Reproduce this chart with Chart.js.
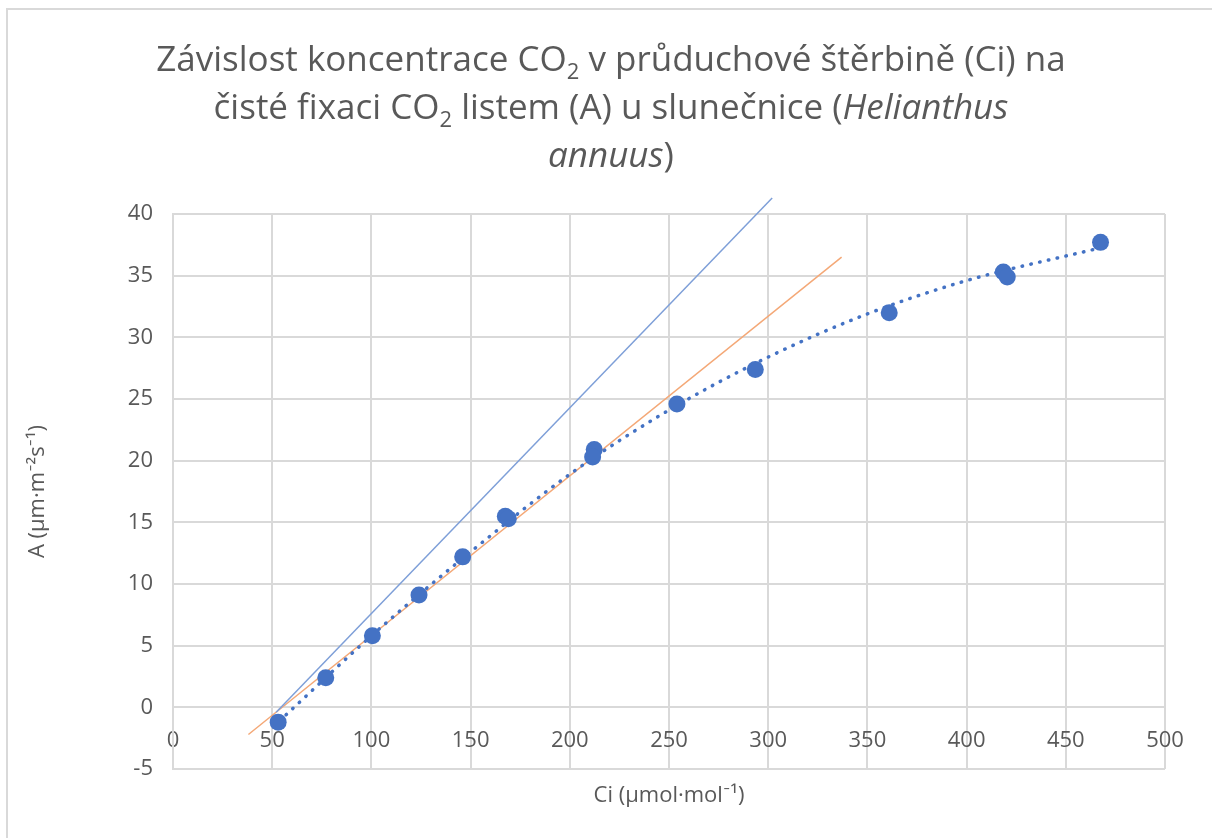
<!DOCTYPE html>
<html>
<head>
<meta charset="utf-8">
<script src="https://cdn.jsdelivr.net/npm/chart.js@4"></script>
<style>
    body { margin: 0; background: #fff; }
    #wrap { position: relative; width: 1212px; height: 838px; overflow: hidden; }
    #frame { position: absolute; left: 6px; top: 8px; right: -20px; bottom: -20px;
             border-left: 2px solid #d9d9d9; border-top: 2px solid #d9d9d9; }
    #title { position: absolute; left: 0; top: 34px; width: 1222px; text-align: center;
             font-family: 'Open Sans', Lato, sans-serif; font-size: 35px; line-height: 48px; color: #595959; }
    #title sub { font-size: 22px; line-height: 0; vertical-align: -8px; }
    canvas { position: absolute; left: 0; top: 0; }
</style>
</head>
<body>
<div id="wrap">
    <div id="frame"></div>
    <canvas id="chart" width="1212" height="838"></canvas>
    <div id="title">Závislost koncentrace CO<sub>2</sub> v průduchové štěrbině (Ci) na<br>čisté fixaci CO<sub>2</sub> listem (A) u slunečnice (<i>Helianthus</i><br><i>annuus</i>)</div>
</div>
<script>
// ── Data ─────────────────────────────────────────────────
const ciValues = [53, 77, 100.5, 124, 146, 167.5, 169, 212.3, 211.5, 254, 293.5, 361, 418.5, 420.5, 467.5];
const aValues  = [-1.2, 2.4, 5.8, 9.1, 12.2, 15.5, 15.3, 20.9, 20.3, 24.6, 27.4, 32.0, 35.3, 34.9, 37.7];

// dotted polynomial trend
const trendCi = [57, 100, 150, 200, 250, 300, 350, 400, 466];
const trendA  = [-0.6, 5.8, 12.6, 18.9, 24.1, 28.4, 31.9, 34.6, 37.2];

// two straight lines (initial slopes)
const blueLineCi = [52, 302];
const blueLineA  = [-0.4, 41.3];
const orangeLineCi = [38, 337];
const orangeLineA  = [-2.2, 36.5];

const xTicks = [0, 50, 100, 150, 200, 250, 300, 350, 400, 450, 500];
const yTicks = [-5, 0, 5, 10, 15, 20, 25, 30, 35, 40];

const toPoints = (xs, ys) => xs.map((x, i) => ({ x, y: ys[i] }));

const FONT = '"Open Sans", Lato, sans-serif';
const TEXT = '#595959';
const GRID = '#d9d9d9';
const BLUE = '#4472c4';

// ── Chart ────────────────────────────────────────────────
new Chart(document.getElementById('chart').getContext('2d'), {
    type: 'scatter',
    data: {
        datasets: [
            {
                data: toPoints(ciValues, aValues),
                backgroundColor: BLUE,
                borderColor: BLUE,
                pointRadius: 8.5,
                pointBorderWidth: 0,
                order: 1,
            },
            {
                type: 'line',
                data: toPoints(trendCi, trendA),
                borderColor: BLUE,
                borderWidth: 3.5,
                borderDash: [0.5, 8.5],
                borderCapStyle: 'round',
                cubicInterpolationMode: 'monotone',
                pointRadius: 0,
                fill: false,
                order: 2,
            },
            {
                type: 'line',
                data: toPoints(blueLineCi, blueLineA),
                borderColor: '#7e9fd8',
                borderWidth: 1.5,
                pointRadius: 0,
                fill: false,
                clip: false,
                order: 3,
            },
            {
                type: 'line',
                data: toPoints(orangeLineCi, orangeLineA),
                borderColor: '#f4a877',
                borderWidth: 1.5,
                pointRadius: 0,
                fill: false,
                clip: false,
                order: 4,
            },
        ],
    },
    options: {
        responsive: false,
        animation: false,
        devicePixelRatio: 1,
        layout: { padding: { left: 0, right: 47, top: 214, bottom: 0 } },
        plugins: {
            legend: { display: false },
            tooltip: { enabled: false },
        },
        scales: {
            x: {
                type: 'linear',
                min: 0, max: 500,
                position: { y: 0 },
                afterBuildTicks: s => { s.ticks = xTicks.map(v => ({ value: v })); },
                ticks: { color: TEXT, font: { family: FONT, size: 22 }, padding: 20 },
                grid: { color: GRID, lineWidth: 2, drawTicks: false },
                border: { display: false },
            },
            xTitle: {
                type: 'linear',
                position: 'bottom',
                display: true,
                afterFit: s => { s.height = 69; },
                ticks: { display: false },
                grid: { display: false, drawTicks: false },
                border: { display: false },
                title: {
                    display: true,
                    text: 'Ci (µmol·mol⁻¹)',
                    color: TEXT,
                    font: { family: FONT, size: 22 },
                    padding: { top: 0, bottom: 29 },
                },
            },
            y: {
                type: 'linear',
                min: -5, max: 40,
                afterFit: s => { s.width = 173; },
                afterBuildTicks: s => { s.ticks = yTicks.map(v => ({ value: v })); },
                ticks: { color: TEXT, font: { family: FONT, size: 22 }, padding: 20 },
                grid: { color: GRID, lineWidth: 2, drawTicks: false },
                border: { color: GRID, width: 2 },
                title: {
                    display: true,
                    text: 'A (µm·m⁻²s⁻¹)',
                    color: TEXT,
                    font: { family: FONT, size: 22 },
                    padding: { top: 25, bottom: 0 },
                },
            },
        },
    },
});
</script>
</body>
</html>
